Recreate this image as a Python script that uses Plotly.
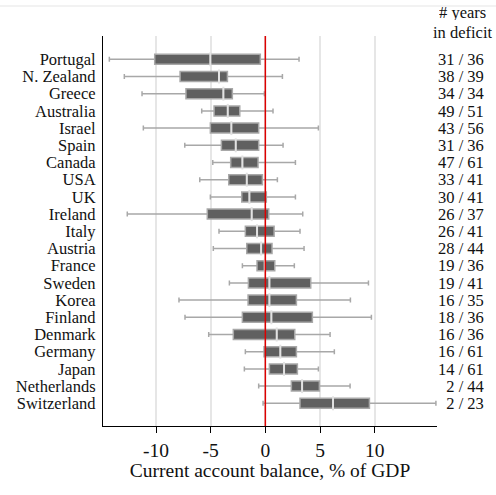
import plotly.graph_objects as go

# Current account balance distribution per country, % of GDP
countries = ["Portugal", "N. Zealand", "Greece", "Australia", "Israel", "Spain",
             "Canada", "USA", "UK", "Ireland", "Italy", "Austria", "France",
             "Sweden", "Korea", "Finland", "Denmark", "Germany", "Japan",
             "Netherlands", "Switzerland"]
low = [-14.27, -12.9, -11.28, -5.82, -11.16, -7.37, -4.81, -6.0, -5.03, -12.63,
       -4.24, -4.76, -2.1, -3.29, -7.9, -7.35, -5.18, -1.83, -1.92, -0.61, -0.21]
q1 = [-10.12, -7.8, -7.26, -4.69, -5.03, -4.02, -3.17, -3.35, -2.16, -5.31,
      -1.83, -1.7, -0.76, -1.55, -1.58, -2.1, -2.93, -0.12, 0.37, 2.38, 3.17]
median = [-5.03, -4.24, -3.84, -3.44, -3.11, -2.71, -2.1, -1.7, -1.46, -1.25,
          -0.76, -0.39, -0.06, 0.37, 0.37, 0.55, 1.04, 1.37, 1.71, 3.36, 6.19]
q3 = [-0.46, -3.47, -3.02, -2.34, -0.61, -0.61, -0.67, -0.27, 0.09, 0.31,
      0.8, 0.61, 0.86, 4.15, 2.84, 4.3, 2.69, 2.84, 2.93, 4.94, 9.52]
high = [3.08, 1.56, -0.09, 0.7, 4.85, 1.62, 2.75, 1.1, 2.75, 3.42,
        3.17, 3.54, 2.65, 9.43, 7.78, 9.7, 5.92, 6.31, 4.85, 7.75, 15.6]
deficit_years = [31, 38, 34, 49, 43, 31, 47, 33, 30, 26, 26, 28, 19, 19, 16, 18,
                 16, 16, 14, 2, 2]
total_years = [36, 39, 34, 51, 56, 36, 61, 41, 41, 37, 41, 44, 36, 41, 35, 36,
               36, 61, 61, 44, 23]
x_ticks = [-10, -5, 0, 5, 10]
x_tick_labels = ["-10", "-5", "0", "5", "10"]

pos = list(range(len(countries)))
serif = "Liberation Serif, Times New Roman, serif"
y_range = [20 + 1.32, -1.355]

# right-hand column labels, padded with figure spaces so they line up on the right
deficit_labels = [f"{d:\u2007>2} / {t}" for d, t in zip(deficit_years, total_years)]

fig = go.Figure()
fig.add_trace(go.Box(
    orientation="h",
    y=pos,
    lowerfence=low, q1=q1, median=median, q3=q3, upperfence=high,
    width=0.58,
    whiskerwidth=0.5,
    fillcolor="#606060",
    line=dict(color="#a8a8a8", width=1.5),
    hoverinfo="skip",
    showlegend=False,
))
# light median bars on top of the dark boxes
fig.add_trace(go.Scatter(
    x=median, y=pos, mode="markers",
    marker=dict(symbol="line-ns", size=10,
                line=dict(color="#e2e2e2", width=2)),
    hoverinfo="skip", showlegend=False,
))
# invisible trace that carries the right-hand axis
fig.add_trace(go.Scatter(
    x=median, y=pos, yaxis="y2", mode="markers",
    marker=dict(opacity=0), hoverinfo="skip", showlegend=False,
))

# zero reference line
fig.add_shape(type="line", xref="x", yref="paper", x0=0, x1=0, y0=0, y1=1,
              line=dict(color="#dd0000", width=1.5), layer="above")
# faint rule at the very top
fig.add_shape(type="line", xref="paper", yref="paper", x0=-0.35, x1=1.2,
              y0=1.077, y1=1.077, line=dict(color="#eeeeee", width=1.5))

for txt, yy in [("# years", 1.059), ("in deficit", 1.008)]:
    fig.add_annotation(x=1.077, xref="paper", y=yy, yref="paper",
                       text=txt, showarrow=False,
                       xanchor="center", yanchor="middle",
                       height=15, borderpad=0,
                       font=dict(family=serif, size=16.5, color="#111"))

fig.update_layout(
    width=496, height=495,
    margin=dict(l=103, r=59, t=36, b=69, autoexpand=False),
    paper_bgcolor="white", plot_bgcolor="white",
    font=dict(family=serif, size=17, color="#111"),
    xaxis=dict(
        range=[-14.85, 15.7], domain=[0, 1], automargin=False,
        tickvals=x_ticks, ticktext=x_tick_labels,
        ticks="outside", ticklen=6, tickcolor="black",
        showline=True, linecolor="black", linewidth=1.2,
        showgrid=True, gridcolor="#e6e6e6", gridwidth=1.5,
        zeroline=False,
        title=dict(text="Current account balance, % of GDP", standoff=0,
                   font=dict(family=serif, size=19.5)),
        tickfont=dict(family=serif, size=19.5),
    ),
    yaxis=dict(
        range=y_range, automargin=False,
        tickvals=pos, ticktext=countries,
        showline=True, linecolor="black", linewidth=1.2,
        showgrid=False, zeroline=False, ticks="",
        ticklabelstandoff=3,
        tickfont=dict(family=serif, size=16.5),
    ),
    yaxis2=dict(
        overlaying="y", side="right", anchor="x", automargin=False,
        range=y_range,
        tickvals=pos, ticktext=deficit_labels,
        showline=False, showgrid=False, zeroline=False, ticks="",
        ticklabelstandoff=0,
        tickfont=dict(family=serif, size=16.5, color="#111"),
    ),
)

fig.write_html("out.html")
